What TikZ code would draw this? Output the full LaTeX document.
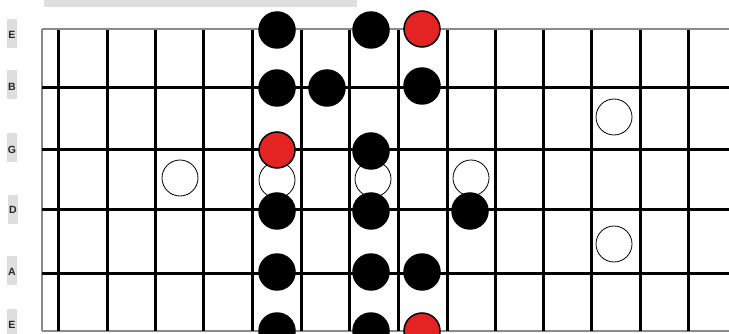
\documentclass[tikz,border=0pt]{standalone}
\usepackage{fontspec}
\setmainfont{Liberation Sans}
\definecolor{rootred}{HTML}{E32422}
\definecolor{labgray}{HTML}{DEDEDE}
\definecolor{framegray}{HTML}{8A8A8A}
\tikzset{
  strline/.style={line width=3pt, black},
  fretline/.style={line width=3pt, black},
  frameline/.style={line width=1.5pt, framegray},
  lab/.style={fill=labgray, minimum width=10pt, minimum height=29pt, inner sep=0pt},
  labtxt/.style={inner sep=0pt, font=\bfseries\fontsize{10.5}{11}\selectfont, text=black!85},
  blk/.style={circle, fill=black, minimum size=37.5pt, inner sep=0pt},
  rootdot/.style={circle, fill=rootred, draw=black, line width=1.5pt, minimum size=36pt, inner sep=0pt},
  opendot/.style={circle, fill=white, draw=black, line width=0.8pt, minimum size=36pt, inner sep=0pt}
}
\begin{document}
\begin{tikzpicture}[x=1pt,y=-1pt]
\useasboundingbox (0,0) rectangle (729,334);
\clip (0,0) rectangle (729,334);
\fill[white] (0,0) rectangle (729,334);
% title bar
\fill[labgray] (44,-2) rectangle (357,7);
% string labels
\node[lab] (lE1) at (12,34) {};
\node[labtxt] (tE1) at (12,35) {E};
\node[lab] (lB) at (12,85) {};
\node[labtxt] (tB) at (12,87) {B};
\node[lab] (lG) at (12,148) {};
\node[labtxt] (tG) at (12,150) {G};
\node[lab] (lD) at (13,210) {};
\node[labtxt] (tD) at (13,210) {D};
\node[lab] (lA) at (12,270) {};
\node[labtxt] (tA) at (12,272) {A};
\node[lab] (lE2) at (12,323) {};
\node[labtxt] (tE2) at (12,325) {E};
% frame
\draw[frameline] (42,29) -- (729,29);
\draw[frameline] (42,331) -- (729,331);
\draw[frameline] (42,29) -- (42,331);
% strings
\foreach \y in {88,150,210,273} \draw[strline] (42,\y) -- (729,\y);
% frets
\foreach \x in {58,107,155,203,252,301,349,398,447,495,543,591,640,688}
  \draw[fretline] (\x,30) -- (\x,331);
% open circles
\node[opendot] (o1) at (180,178) {};
\node[opendot] (o2) at (277,180) {};
\node[opendot] (o3) at (373,179) {};
\node[opendot] (o4) at (471,178) {};
\node[opendot] (o5) at (614,117) {};
\node[opendot] (o6) at (614,244) {};
% high E
\node[blk] (e1) at (277,30) {};
\node[blk] (e2) at (371,30) {};
\node[rootdot] (e3) at (422,29) {};
% B
\node[blk] (b1) at (277,88) {};
\node[blk] (b2) at (327,88) {};
\node[blk] (b3) at (422,86) {};
% G
\node[rootdot] (g1) at (277,150) {};
\node[blk] (g2) at (371,151) {};
% D
\node[blk] (d1) at (277,211) {};
\node[blk] (d2) at (371,211) {};
\node[blk] (d3) at (470,211) {};
% A
\node[blk] (a1) at (277,272) {};
\node[blk] (a2) at (371,272) {};
\node[blk] (a3) at (422,272) {};
% low E
\node[blk] (l1) at (277,331) {};
\node[blk] (l2) at (371,331) {};
\node[rootdot] (l3) at (422,331) {};
\end{tikzpicture}
\end{document}
